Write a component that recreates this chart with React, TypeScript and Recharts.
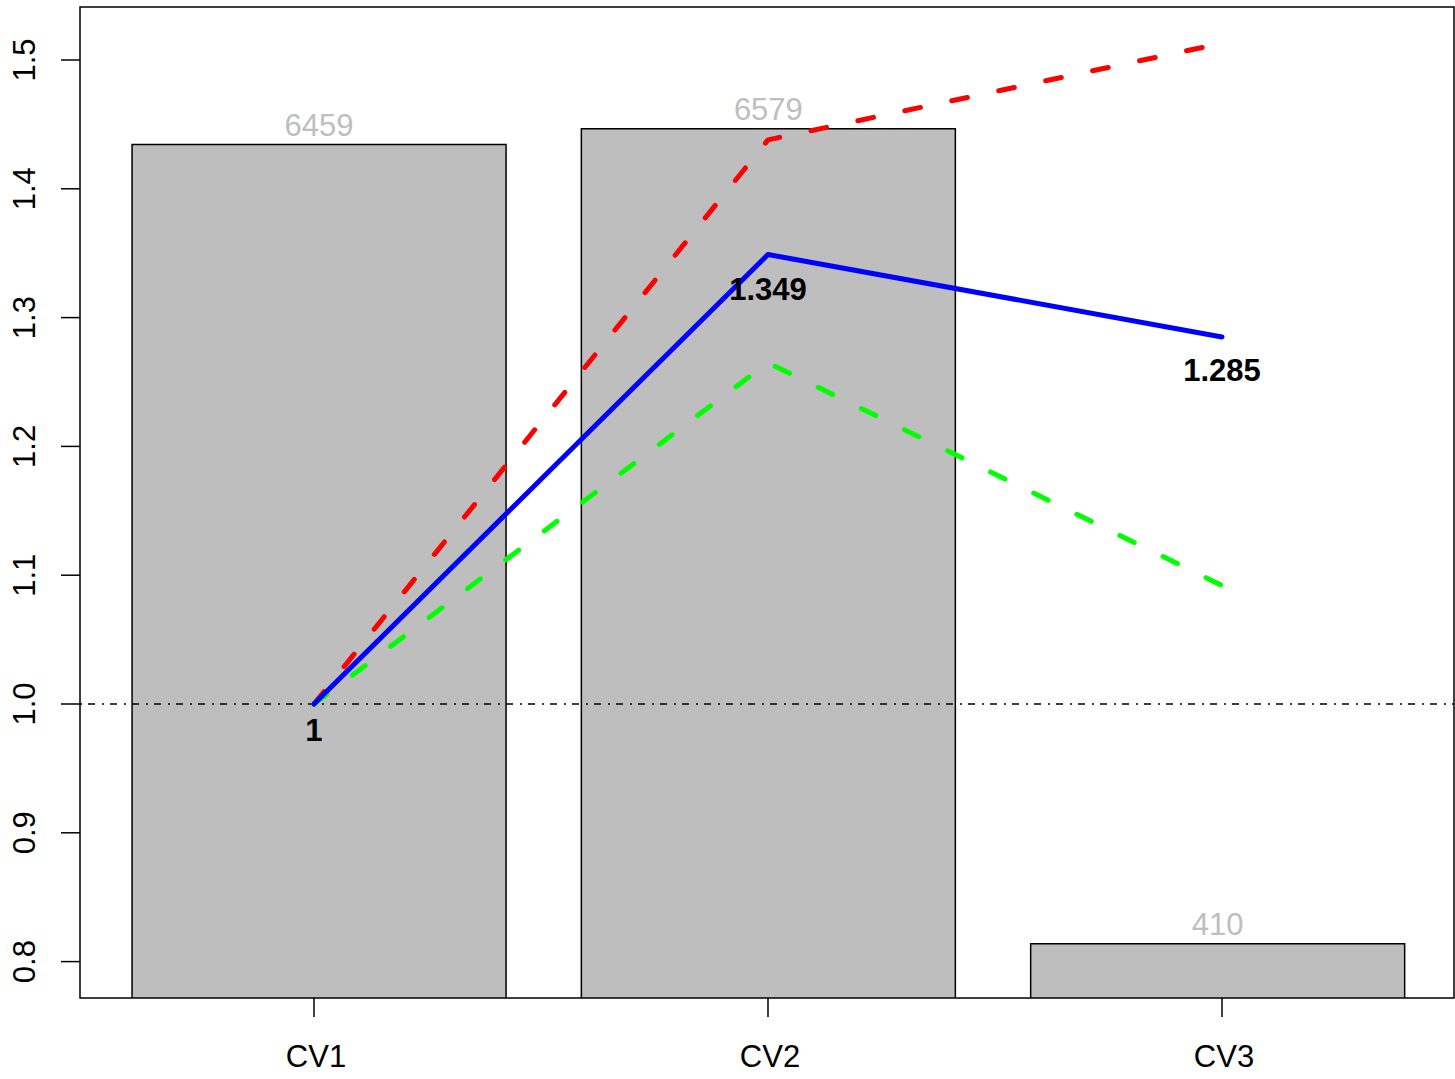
import React from 'react';
import {
  ComposedChart,
  Bar,
  Line,
  XAxis,
  YAxis,
  ReferenceLine,
  ReferenceArea,
  LabelList,
} from 'recharts';

// ---- data ----
const categories = ['CV1', 'CV2', 'CV3'];
const counts = [6459, 6579, 410];
const meanRatio = [1, 1.349, 1.285];
const upperRatio = [1, 1.438, 1.513];
const lowerRatio = [1, 1.265, 1.092];
const valueTicks = [0.8, 0.9, 1.0, 1.1, 1.2, 1.3, 1.4, 1.5];
const positions = [1, 2, 3];

const data = categories.map((name, i) => ({
  x: positions[i],
  name,
  count: counts[i],
  mean: meanRatio[i],
  upper: upperRatio[i],
  lower: lowerRatio[i],
}));

// ---- layout constants ----
const W = 1455;
const H = 1079;
const TOP = 7;
const LEFT = 80;
const X_AXIS_H = 81;
const PLOT_BOTTOM = H - X_AXIS_H;
const PLOT_H = PLOT_BOTTOM - TOP;
const TICK_LEN = 19;
const VAL_DOMAIN: [number, number] = [0.77174, 1.54115];
const COUNT_DOMAIN: [number, number] = [0, 7500];
const LINE_X_DOMAIN: [number, number] = [0.4846, 3.511];
const BAR_X_DOMAIN: [number, number] = [0.4687, 3.5268];
const PX_PER_UNIT = PLOT_H / (VAL_DOMAIN[1] - VAL_DOMAIN[0]);
const FONT = '"Liberation Sans", Arial, Helvetica, sans-serif';

const XTick = (props: any) => {
  const { x, payload } = props;
  const label = categories[positions.indexOf(payload.value)] ?? '';
  return (
    <g>
      <line x1={x} x2={x} y1={PLOT_BOTTOM} y2={PLOT_BOTTOM + TICK_LEN} stroke="#000" strokeWidth={1.5} />
      <text x={x + 2} y={1067} textAnchor="middle" fontSize={31} fontFamily={FONT} fill="#000">
        {label}
      </text>
    </g>
  );
};

const YTick = (props: any) => {
  const { y, payload } = props;
  const bx = 35;
  return (
    <g>
      <line x1={LEFT - TICK_LEN} x2={LEFT} y1={y} y2={y} stroke="#000" strokeWidth={1.5} />
      <text
        x={bx}
        y={y}
        transform={`rotate(-90, ${bx}, ${y})`}
        textAnchor="middle"
        fontSize={31}
        fontFamily={FONT}
        fill="#000"
      >
        {Number(payload.value).toFixed(1)}
      </text>
    </g>
  );
};

const BarLabel = (props: any) => {
  const { x, y, width, value } = props;
  return (
    <text
      x={x + width / 2}
      y={y - 9}
      textAnchor="middle"
      fontSize={31}
      fontFamily={FONT}
      fill="#BEBEBE"
    >
      {value}
    </text>
  );
};

// label placed at value * 0.98 in data space (converted through the value scale)
const MeanLabel = (props: any) => {
  const { x, y, value } = props;
  const off = Number(value) * 0.02 * PX_PER_UNIT;
  return (
    <text
      x={x}
      y={y + off}
      dy="0.36em"
      textAnchor="middle"
      fontSize={31}
      fontWeight="bold"
      fontFamily={FONT}
      fill="#000"
    >
      {String(value)}
    </text>
  );
};

export default function App() {
  return (
    <div style={{ position: 'absolute', left: 0, top: 0, background: '#fff' }}>
      <ComposedChart
        width={W}
        height={H}
        data={data}
        margin={{ top: TOP, right: 1, bottom: 0, left: 0 }}
      >
        <XAxis
          xAxisId="bar"
          dataKey="x"
          type="number"
          domain={BAR_X_DOMAIN}
          ticks={positions}
          allowDataOverflow
          hide
        />
        <XAxis
          xAxisId="line"
          dataKey="x"
          type="number"
          domain={LINE_X_DOMAIN}
          ticks={positions}
          allowDataOverflow
          height={X_AXIS_H}
          tickLine={false}
          axisLine={false}
          tick={<XTick />}
          interval={0}
        />
        <YAxis
          yAxisId="val"
          type="number"
          domain={VAL_DOMAIN}
          ticks={valueTicks}
          allowDataOverflow
          width={LEFT}
          tickLine={false}
          axisLine={false}
          tick={<YTick />}
          interval={0}
        />
        <YAxis yAxisId="count" type="number" domain={COUNT_DOMAIN} allowDataOverflow hide />

        <Bar
          xAxisId="bar"
          yAxisId="count"
          dataKey="count"
          barSize={374}
          fill="#BEBEBE"
          stroke="#000"
          strokeWidth={1.5}
          isAnimationActive={false}
        >
          <LabelList dataKey="count" content={<BarLabel />} />
        </Bar>

        <ReferenceLine
          xAxisId="line"
          yAxisId="val"
          y={1}
          stroke="#000"
          strokeWidth={1.4}
          strokeDasharray="2 6 7 7"
        />

        <Line
          xAxisId="line"
          yAxisId="val"
          type="linear"
          dataKey="upper"
          stroke="#FF0000"
          strokeWidth={5}
          strokeDasharray="16 32"
          strokeLinecap="round"
          strokeLinejoin="round"
          dot={false}
          activeDot={false}
          isAnimationActive={false}
        />
        <Line
          xAxisId="line"
          yAxisId="val"
          type="linear"
          dataKey="lower"
          stroke="#00FF00"
          strokeWidth={5}
          strokeDasharray="16 32"
          strokeLinecap="round"
          strokeLinejoin="round"
          dot={false}
          activeDot={false}
          isAnimationActive={false}
        />
        <Line
          xAxisId="line"
          yAxisId="val"
          type="linear"
          dataKey="mean"
          stroke="#0000FF"
          strokeWidth={5}
          strokeLinecap="round"
          strokeLinejoin="round"
          dot={false}
          activeDot={false}
          isAnimationActive={false}
        >
          <LabelList dataKey="mean" content={<MeanLabel />} />
        </Line>

        <ReferenceArea
          xAxisId="line"
          yAxisId="val"
          x1={LINE_X_DOMAIN[0]}
          x2={LINE_X_DOMAIN[1]}
          y1={VAL_DOMAIN[0]}
          y2={VAL_DOMAIN[1]}
          fill="none"
          fillOpacity={0}
          stroke="#000"
          strokeWidth={1.5}
          ifOverflow="visible"
        />
      </ComposedChart>
    </div>
  );
}
